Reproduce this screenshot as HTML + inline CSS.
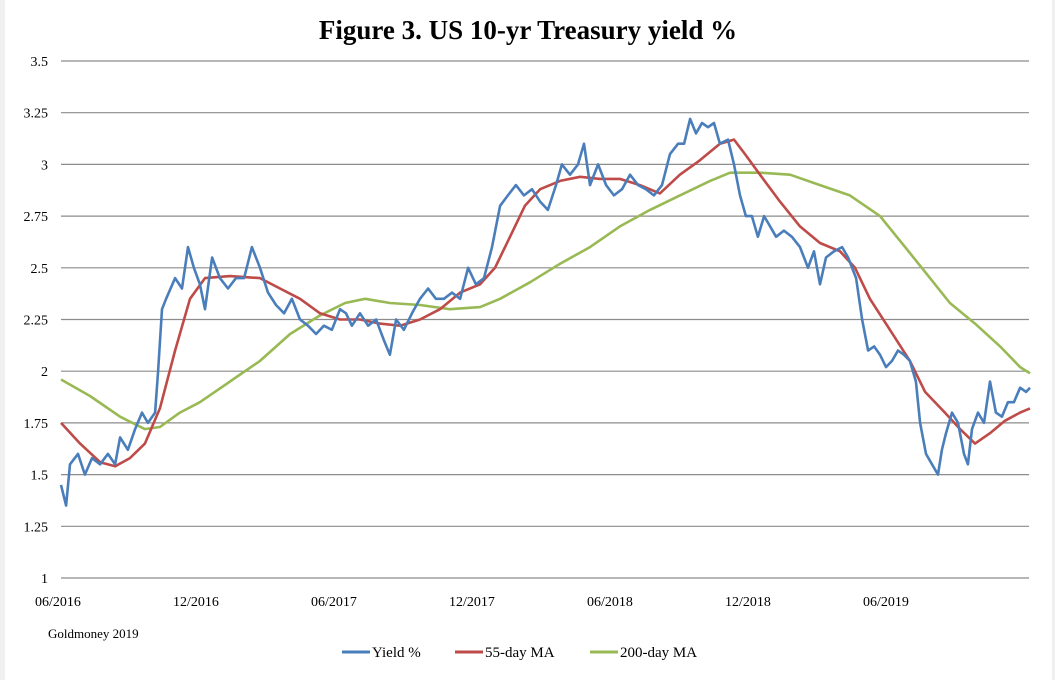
<!DOCTYPE html>
<html><head><meta charset="utf-8"><style>
body{margin:0;background:#fff;}
#wrap{position:relative;width:1055px;height:680px;overflow:hidden;background:#fff;font-family:"Liberation Serif",serif;}
</style></head><body>
<div id="wrap">
<div style="position:absolute;left:0;top:0;width:5px;height:680px;background:#f0f0f0"></div>
<div style="position:absolute;right:0;top:0;width:3px;height:680px;background:#f0f0f0"></div>
<svg id="svg" width="1055" height="680" style="position:absolute;left:0;top:0">
<text x="528" y="39" text-anchor="middle" font-size="27" font-weight="bold" font-family="Liberation Serif,serif">Figure 3. US 10-yr Treasury yield %</text>
<g id="grid"></g><g id="xlabels"></g><g id="lines"></g>
<text x="48" y="638" font-size="13" font-family="Liberation Serif,serif">Goldmoney 2019</text>
<g font-family="Liberation Serif,serif" font-size="15">
<line x1="342" y1="652" x2="370" y2="652" stroke="#4a7ebb" stroke-width="3"/>
<text x="372" y="657">Yield %</text>
<line x1="455" y1="652" x2="483" y2="652" stroke="#be4b48" stroke-width="3"/>
<text x="485" y="657">55-day MA</text>
<line x1="590" y1="652" x2="618" y2="652" stroke="#98b954" stroke-width="3"/>
<text x="620" y="657">200-day MA</text>
</g>
</svg>
</div>
<script>
const yTicks=[1,1.25,1.5,1.75,2,2.25,2.5,2.75,3,3.25,3.5];
const yTickLabels=["1","1.25","1.5","1.75","2","2.25","2.5","2.75","3","3.25","3.5"];
const xTicks=[0,6,12,18,24,30,36];
const xTickLabels=["06/2016","12/2016","06/2017","12/2017","06/2018","12/2018","06/2019"];
const yieldT=[0,.22,.39,.74,1.04,1.35,1.7,2.04,2.35,2.57,2.91,3.22,3.52,3.78,4.09,4.22,4.39,4.57,4.96,5.26,5.52,5.78,6.04,6.26,6.57,6.91,7.26,7.61,7.96,8.3,8.65,9,9.35,9.7,10.04,10.39,10.74,11.09,11.43,11.78,12.13,12.39,12.65,13,13.35,13.7,14.04,14.3,14.57,14.91,15.26,15.61,15.96,16.3,16.65,17,17.35,17.7,18.04,18.39,18.74,19.09,19.43,19.78,20.13,20.48,20.83,21.17,21.52,21.78,22.13,22.48,22.74,23,23.35,23.7,24.04,24.39,24.74,25.09,25.43,25.78,26.13,26.48,26.83,27.09,27.35,27.61,27.87,28.13,28.39,28.65,29,29.26,29.52,29.78,30.04,30.3,30.57,30.83,31.09,31.43,31.78,32.13,32.48,32.74,33,33.26,33.61,33.96,34.22,34.57,34.83,35.09,35.35,35.61,35.87,36.13,36.39,36.65,36.91,37.17,37.35,37.61,37.87,38.13,38.3,38.48,38.74,39,39.26,39.43,39.61,39.87,40.13,40.39,40.65,40.91,41.17,41.43,41.7,41.96,42.13];
const yieldV=[1.45,1.35,1.55,1.6,1.5,1.58,1.55,1.6,1.55,1.68,1.62,1.72,1.8,1.75,1.8,2.0,2.3,2.35,2.45,2.4,2.6,2.5,2.42,2.3,2.55,2.45,2.4,2.45,2.45,2.6,2.5,2.38,2.32,2.28,2.35,2.25,2.22,2.18,2.22,2.2,2.3,2.28,2.22,2.28,2.22,2.25,2.15,2.08,2.25,2.2,2.28,2.35,2.4,2.35,2.35,2.38,2.35,2.5,2.42,2.45,2.6,2.8,2.85,2.9,2.85,2.88,2.82,2.78,2.9,3.0,2.95,3.0,3.1,2.9,3.0,2.9,2.85,2.88,2.95,2.9,2.88,2.85,2.9,3.05,3.1,3.1,3.22,3.15,3.2,3.18,3.2,3.1,3.12,3.0,2.85,2.75,2.75,2.65,2.75,2.7,2.65,2.68,2.65,2.6,2.5,2.58,2.42,2.55,2.58,2.6,2.55,2.45,2.25,2.1,2.12,2.08,2.02,2.05,2.1,2.08,2.05,1.95,1.75,1.6,1.55,1.5,1.62,1.7,1.8,1.75,1.6,1.55,1.72,1.8,1.75,1.95,1.8,1.78,1.85,1.85,1.92,1.9,1.92];
const ma55T=[0,.83,1.7,2.35,3,3.65,4.3,4.96,5.61,6.26,7.35,8.65,9.52,10.39,11.26,12.13,13,13.87,14.74,15.61,16.48,17.35,18.22,18.87,19.52,20.17,20.83,21.7,22.57,23.43,24.3,25.17,26.04,26.91,27.78,28.65,29.26,29.74,30.39,31.26,32.13,33,33.87,34.52,35.17,36.04,36.91,37.57,38.43,39.09,39.74,40.39,41.04,41.7,42.13];
const ma55V=[1.75,1.65,1.56,1.54,1.58,1.65,1.82,2.1,2.35,2.45,2.46,2.45,2.4,2.35,2.28,2.25,2.25,2.23,2.22,2.25,2.3,2.38,2.42,2.5,2.65,2.8,2.88,2.92,2.94,2.93,2.93,2.9,2.86,2.95,3.02,3.1,3.12,3.05,2.95,2.82,2.7,2.62,2.58,2.5,2.35,2.2,2.05,1.9,1.8,1.72,1.65,1.7,1.76,1.8,1.82];
const ma200T=[0,1.26,2.57,3.65,4.3,5.17,6.04,7.35,8.65,9.96,11.26,12.35,13.22,14.3,15.61,16.91,18.22,19.09,20.39,21.7,23,24.3,25.61,26.91,28.22,29.09,30.39,31.7,33,34.3,35.61,36.7,37.57,38.65,39.74,40.83,41.7,42.13];
const ma200V=[1.96,1.88,1.78,1.72,1.73,1.8,1.85,1.95,2.05,2.18,2.27,2.33,2.35,2.33,2.32,2.30,2.31,2.35,2.43,2.52,2.6,2.7,2.78,2.85,2.92,2.96,2.96,2.95,2.9,2.85,2.75,2.6,2.48,2.33,2.23,2.12,2.02,1.99];

const NS="http://www.w3.org/2000/svg";
const X0=61,X1=1029,Y0=578,Y1=61;
const xs=t=>X0+t*23;
const ys=v=>Y0-(v-1)/2.5*(Y0-Y1);
function mk(tag,attrs,parent){const e=document.createElementNS(NS,tag);for(const k in attrs)e.setAttribute(k,attrs[k]);parent.appendChild(e);return e;}
const grid=document.getElementById('grid');
yTicks.forEach((v,i)=>{
  const l=mk('line',{x1:X0,x2:X1,y1:ys(v),y2:ys(v),stroke:'#8c8c8c','stroke-width':1.2},grid);
  
  
  const t=mk('text',{x:48,y:ys(v)+5,'text-anchor':'end','font-size':14,'font-family':'Liberation Serif,serif'},grid);
  t.textContent=yTickLabels[i];
  
  
});
const xl=document.getElementById('xlabels');
xTicks.forEach((m,i)=>{
  const t=mk('text',{x:xs(m)-3,y:606,'text-anchor':'middle','font-size':14,'font-family':'Liberation Serif,serif'},xl);
  t.textContent=xTickLabels[i];
  
  
});
const lines=document.getElementById('lines');
function series(T,V,color,name){
  const d=T.map((t,i)=>(i?'L':'M')+xs(t).toFixed(1)+','+ys(V[i]).toFixed(1)).join(' ');
  const p=mk('path',{d:d,fill:'none',stroke:color,'stroke-width':2.6,'stroke-linejoin':'round'},lines);
  
  
}
series(ma200T,ma200V,'#98b954','ma200-line');
series(ma55T,ma55V,'#be4b48','ma55-line');
series(yieldT,yieldV,'#4a7ebb','yield-line');
</script>
</body></html>
